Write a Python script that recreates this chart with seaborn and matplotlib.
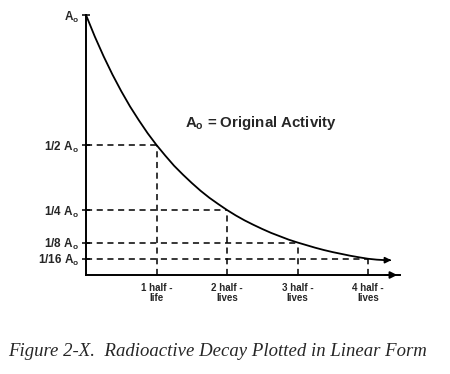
import numpy as np
import pandas as pd
import seaborn as sns
import matplotlib.pyplot as plt

# valeurs (activite en fraction de A0)
half_lives = [0, 0.125, 0.25, 0.375, 0.5, 0.625, 0.75, 0.875, 1,
              1.125, 1.25, 1.375, 1.5, 1.625, 1.75, 1.875, 2,
              2.125, 2.25, 2.375, 2.5, 2.625, 2.75, 2.875, 3,
              3.125, 3.25, 3.375, 3.5, 3.625, 3.75, 3.875, 4, 4.125, 4.25]
activity = [1.0, 0.917, 0.841, 0.771, 0.707, 0.648, 0.595, 0.545, 0.5,
            0.459, 0.42, 0.386, 0.354, 0.324, 0.297, 0.273, 0.25,
            0.229, 0.21, 0.193, 0.177, 0.162, 0.149, 0.136, 0.125,
            0.115, 0.105, 0.096, 0.088, 0.081, 0.074, 0.068, 0.0625, 0.059, 0.057]

marks_x = [1, 2, 3, 4]
marks_y = [0.5, 0.25, 0.125, 0.0625]
y_labels = ["1/2 A$_\\mathregular{o}$", "1/4 A$_\\mathregular{o}$", "1/8 A$_\\mathregular{o}$", "1/16 A$_\\mathregular{o}$"]
x_labels = ["1 half -\nlife", "2 half -\nlives", "3 half -\nlives", "4 half -\nlives"]

df = pd.DataFrame({"t": half_lives, "A": activity})

sns.set_style("white")
plt.rcParams['font.family'] = ['Liberation Sans', 'DejaVu Sans']

fig = plt.figure(figsize=(4.5, 3.74), dpi=100)
ax = fig.add_axes([86 / 450, 99 / 374, 314 / 450, 260 / 374])

# courbe de decroissance
sns.lineplot(data=df, x="t", y="A", ax=ax, color="black", linewidth=1.3, clip_on=False)
ax.annotate("", xy=(half_lives[-1] + 0.12, activity[-1]), xytext=(half_lives[-1], activity[-1]),
            arrowprops=dict(arrowstyle="-|>", color="black", lw=1.2, mutation_scale=9))

# lignes pointillees
for x, y in zip(marks_x, marks_y):
    ax.plot([0, x], [y, y], color="black", lw=1.1, linestyle=(0, (4, 3)))
    ax.plot([x, x], [0, y], color="black", lw=1.1, linestyle=(0, (4, 3)))

ax.set_xlim(0, 314 / 70.5)
ax.set_ylim(0, 1)

for s in ["top", "right"]:
    ax.spines[s].set_visible(False)
for s in ["left", "bottom"]:
    ax.spines[s].set_color("black")
    ax.spines[s].set_linewidth(1.4)

# fleche axe x
ax.annotate("", xy=(314 / 70.5, 0), xytext=(4.2, 0),
            arrowprops=dict(arrowstyle="-|>", color="black", lw=1.4, mutation_scale=10),
            annotation_clip=False)

ax.set_yticks([1.0] + marks_y)
ax.set_yticklabels(["A$_\\mathregular{o}$"] + y_labels, fontsize=8.5, fontweight="bold")
ax.tick_params(axis="y", direction="inout", length=6, width=1.3, pad=2, left=True)
ax.set_xticks(marks_x)
ax.set_xticklabels(x_labels, fontsize=7, fontweight="bold", linespacing=0.95)
ax.tick_params(axis="x", length=0, pad=6)
ax.set_xlabel("")
ax.set_ylabel("")

ax.text(1.4, 0.585, "A$_\\mathregular{o}$ = Original Activity", fontsize=10.8, fontweight="bold",
        va="center")

fig.text(8 / 450, 1 - 352 / 374, "Figure 2-X.  Radioactive Decay Plotted in Linear Form",
         family="Liberation Serif", style="italic", fontsize=13.5, va="center")

fig.savefig("out.png", dpi=100)
